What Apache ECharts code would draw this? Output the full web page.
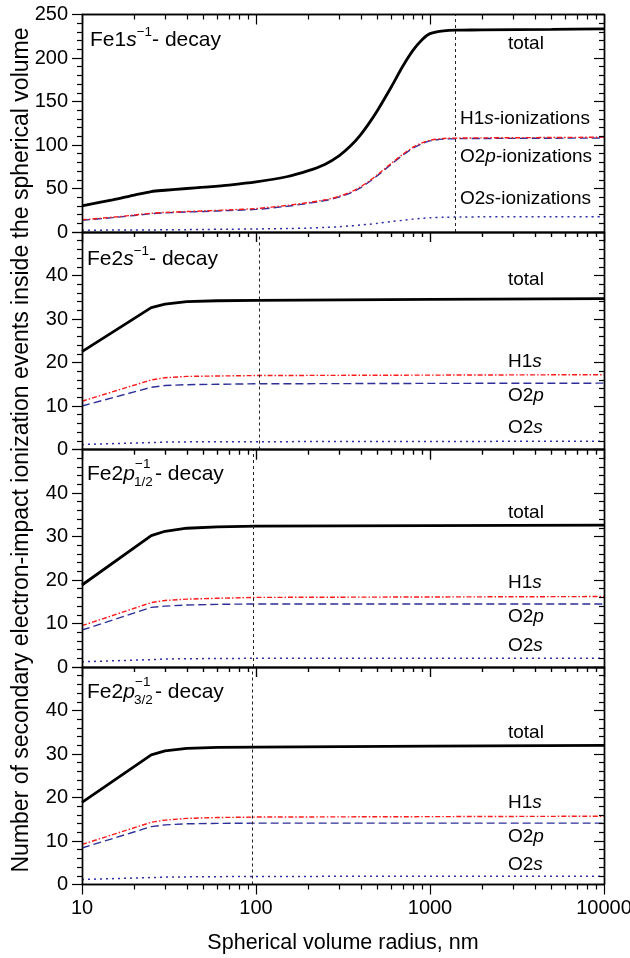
<!DOCTYPE html>
<html>
<head>
<meta charset="utf-8">
<script src="https://cdn.jsdelivr.net/npm/echarts@6/dist/echarts.min.js"></script>
<style>
html, body { margin: 0; padding: 0; background: #fff; overflow: hidden; }
/* a bit wider than the window so the "10000" label never overflows the container */
#chart, #frame { position: absolute; left: 0; top: 0; width: 660px; height: 958px; }
#frame { pointer-events: none; }
</style>
</head>
<body>
<div id="chart"></div>
<div id="frame"></div>
<script>
// radius values (nm)
var radiusFe1s = [10, 15, 20, 25, 30, 40, 50, 70, 100, 150, 200, 250, 300, 350, 400, 450, 500, 600, 700, 800, 900, 1000, 1200, 1500, 2000, 5000, 10000];
var radiusFe2 = [10, 25, 30, 40, 60, 100, 1000, 10000];

// Fe1s-1 decay
var fe1sTotal = [30, 37, 42.5, 46.5, 48, 50, 51.5, 54, 57.5, 63.5, 70.5, 78, 87.5, 99, 112, 126, 140, 167, 191, 209, 221, 228, 231.3, 232, 232.3, 232.8, 233.5];
var fe1sH1s = [14, 17, 19.5, 21.5, 22.5, 23.5, 24.2, 25.4, 27, 30.5, 33.8, 37, 41, 46, 52, 59, 66, 79, 89.5, 97.5, 102.5, 105.5, 107.5, 108, 108.2, 108.6, 109];
var fe1sO2p = [13.5, 16.5, 19, 21, 22, 23, 23.6, 24.7, 26, 29.5, 33, 36.2, 40.2, 45, 51, 58, 65, 78, 88.5, 96.5, 101.5, 104.7, 106.8, 107.3, 107.5, 107.8, 108];
var fe1sO2s = [2, 2.2, 2.3, 2.4, 2.5, 2.7, 2.9, 3.2, 3.5, 4, 4.5, 5.2, 6, 7, 8, 9, 10, 12, 13.5, 14.8, 15.7, 16.3, 16.9, 17.3, 17.4, 17.5, 17.6];

// Fe2s-1 decay
var fe2sTotal = [22.5, 32.6, 33.4, 34.0, 34.2, 34.3, 34.5, 34.7];
var fe2sH1s = [11.1, 16.0, 16.5, 16.8, 16.9, 17.0, 17.1, 17.2];
var fe2sO2p = [10.0, 14.3, 14.7, 14.9, 15.0, 15.1, 15.2, 15.25];
var fe2sO2s = [1.15, 1.6, 1.7, 1.75, 1.8, 1.8, 1.85, 1.9];

// Fe2p1/2-1 decay
var fe2p1Total = [18.85, 30.2, 31.2, 31.9, 32.2, 32.4, 32.5, 32.6];
var fe2p1H1s = [9.5, 14.8, 15.3, 15.6, 15.8, 16.0, 16.1, 16.2];
var fe2p1O2p = [8.5, 13.7, 14.0, 14.25, 14.4, 14.5, 14.5, 14.5];
var fe2p1O2s = [1.2, 1.7, 1.85, 1.9, 1.95, 2.0, 2.0, 2.0];

// Fe2p3/2-1 decay
var fe2p3Total = [18.9, 29.8, 30.7, 31.3, 31.5, 31.6, 31.8, 32.0];
var fe2p3H1s = [9.2, 14.3, 14.8, 15.2, 15.4, 15.5, 15.6, 15.7];
var fe2p3O2p = [8.4, 13.3, 13.7, 13.95, 14.05, 14.1, 14.1, 14.1];
var fe2p3O2s = [1.15, 1.6, 1.7, 1.75, 1.8, 1.85, 1.9, 1.9];

// vertical dashed marker per panel
var markRadius = [1405, 104, 96.5, 95.7];
var yMax = [250, 50, 50, 50];
var yStep = [50, 10, 10, 10];

var panels = [
    {x: radiusFe1s, total: fe1sTotal, h1s: fe1sH1s, o2p: fe1sO2p, o2s: fe1sO2s, smooth: true},
    {x: radiusFe2, total: fe2sTotal, h1s: fe2sH1s, o2p: fe2sO2p, o2s: fe2sO2s, smooth: false},
    {x: radiusFe2, total: fe2p1Total, h1s: fe2p1H1s, o2p: fe2p1O2p, o2s: fe2p1O2s, smooth: false},
    {x: radiusFe2, total: fe2p3Total, h1s: fe2p3H1s, o2p: fe2p3O2p, o2s: fe2p3O2s, smooth: false}
];

var FONT = 'Liberation Sans, Arial, sans-serif';
var panelTop = [14.5, 232, 449.5, 667];
var panelH = 217.5;

function pairs(xs, ys) {
    var out = [];
    for (var i = 0; i < xs.length; i++) {
        out.push([xs[i], ys[i]]);
    }
    return out;
}

// fresh style objects every time (echarts merges into option objects)
function tick(len, inside) {
    return {show: true, inside: !!inside, length: len, lineStyle: {color: '#000', width: 1.2}};
}
function minor(split) {
    return {show: true, splitNumber: split, length: 5, lineStyle: {color: '#000', width: 1.2}};
}
function line() {
    return {show: true, onZero: false, lineStyle: {color: '#000', width: 1.4}};
}
function noTick() {
    return {show: false};
}

// builds the 4 grids and their axes; withTicks -> frame layer, otherwise labels layer
function buildAxes(withTicks) {
    var grids = [], xAxes = [], yAxes = [];
    for (var p = 0; p < 4; p++) {
        grids.push({left: 82, right: 56, top: panelTop[p], height: panelH, containLabel: false, outerBoundsMode: 'none'});

        // bottom log axis (ticks outward)
        xAxes.push({
            type: 'log', logBase: 10, gridIndex: p, min: 10, max: 10000, position: 'bottom',
            axisLine: line(),
            axisTick: withTicks ? tick(10) : noTick(),
            minorTick: withTicks ? minor(9) : noTick(),
            splitLine: {show: false},
            axisLabel: {
                show: !withTicks && p === 3, fontSize: 20, color: '#000', fontFamily: FONT, margin: 14,
                formatter: function (v) { return String(v); }
            }
        });
        // top log axis (ticks inside)
        xAxes.push({
            type: 'log', logBase: 10, gridIndex: p, min: 10, max: 10000, position: 'top',
            axisLine: line(),
            axisTick: withTicks ? tick(10, true) : noTick(),
            minorTick: withTicks ? minor(9) : noTick(),
            splitLine: {show: false},
            axisLabel: {show: false}
        });

        yAxes.push({
            type: 'value', gridIndex: p, min: 0, max: yMax[p], interval: yStep[p], position: 'left',
            axisLine: line(),
            axisTick: withTicks ? tick(10) : noTick(),
            minorTick: withTicks ? minor(5) : noTick(),
            splitLine: {show: false},
            axisLabel: {show: !withTicks, fontSize: 20, color: '#000', fontFamily: FONT, margin: 14, showMaxLabel: p === 0}
        });
        yAxes.push({
            type: 'value', gridIndex: p, min: 0, max: yMax[p], interval: yStep[p], position: 'right',
            axisLine: line(),
            axisTick: withTicks ? tick(10, true) : noTick(),
            minorTick: withTicks ? minor(5) : noTick(),
            splitLine: {show: false},
            axisLabel: {show: false}
        });
    }
    return {grid: grids, xAxis: xAxes, yAxis: yAxes};
}

var series = [];
for (var p = 0; p < 4; p++) {
    var d = panels[p];
    var common = {type: 'line', xAxisIndex: 2 * p, yAxisIndex: 2 * p, showSymbol: false, smooth: d.smooth ? 0.3 : false, z: 3};
    series.push(Object.assign({}, common, {
        name: 'O2s', data: pairs(d.x, d.o2s),
        lineStyle: {color: '#2b2ba8', width: 1.5, type: [2, 4]}
    }));
    series.push(Object.assign({}, common, {
        name: 'O2p', data: pairs(d.x, d.o2p),
        lineStyle: {color: '#2e2e98', width: 1.4, type: [8, 4]}
    }));
    series.push(Object.assign({}, common, {
        name: 'H1s', data: pairs(d.x, d.h1s),
        lineStyle: {color: '#ff1a1a', width: 1.4, type: [5, 2, 1.5, 2]}
    }));
    series.push(Object.assign({}, common, {
        name: 'total', data: pairs(d.x, d.total),
        lineStyle: {color: '#000', width: 2.8},
        markLine: {
            silent: true, symbol: 'none', animation: false,
            label: {show: false},
            lineStyle: {color: '#222', width: 1, type: [3, 3]},
            data: [{xAxis: markRadius[p]}]
        }
    }));
}

// text helpers
var normal = {fontSize: 21, fontFamily: FONT, fill: '#000', lineHeight: 30};
var ital = {fontSize: 21, fontFamily: FONT, fontStyle: 'italic', fill: '#000', lineHeight: 30};
var sup = {fontSize: 13.5, fontFamily: FONT, fill: '#000', lineHeight: 12, verticalAlign: 'top'};
var lab = {fontSize: 19, fontFamily: FONT, fill: '#000'};
var labI = {fontSize: 19, fontFamily: FONT, fontStyle: 'italic', fill: '#000'};
var small = {fontSize: 13.5, fontFamily: FONT, fill: '#000'};

function txt(x, y, text, rich, align) {
    return {
        type: 'text', x: x, y: y, z: 10,
        style: {
            text: text, rich: rich, font: '20px ' + FONT, fill: '#000',
            align: align || 'left', textAlign: align || 'left',
            verticalAlign: 'middle', textVerticalAlign: 'middle'
        }
    };
}

var graphics = [];
// panel titles
graphics.push(txt(90, 40, '{n|Fe1}{i|s}{s|\u22121}{n|- decay}', {n: normal, i: ital, s: sup}));
graphics.push(txt(87, 259, '{n|Fe2}{i|s}{s|\u22121}{n|- decay}', {n: normal, i: ital, s: sup}));
var titleY = [474, 692];
for (var t = 0; t < 2; t++) {
    var ty = titleY[t];
    graphics.push(txt(87, ty, '{n|Fe2}{i|p}', {n: normal, i: ital}));
    graphics.push(txt(135, ty - 10, '{s|\u22121}', {s: small}));
    graphics.push(txt(134, ty + 8, '{s|' + (t === 0 ? '1/2' : '3/2') + '}', {s: small}));
    graphics.push(txt(155, ty, '{n|- decay}', {n: normal}));
}

// curve labels
graphics.push(txt(508, 44, '{n|total}', {n: lab}));
graphics.push(txt(460, 119, '{n|H1}{i|s}{n|-ionizations}', {n: lab, i: labI}));
graphics.push(txt(460, 157, '{n|O2}{i|p}{n|-ionizations}', {n: lab, i: labI}));
graphics.push(txt(460, 198.5, '{n|O2}{i|s}{n|-ionizations}', {n: lab, i: labI}));

var labelY = [
    [280, 362, 396, 427.5],
    [512.5, 583, 616.5, 646],
    [733, 803, 836.5, 865]
];
for (var k = 0; k < 3; k++) {
    graphics.push(txt(508, labelY[k][0], '{n|total}', {n: lab}));
    graphics.push(txt(508, labelY[k][1], '{n|H1}{i|s}', {n: lab, i: labI}));
    graphics.push(txt(508, labelY[k][2], '{n|O2}{i|p}', {n: lab, i: labI}));
    graphics.push(txt(508, labelY[k][3], '{n|O2}{i|s}', {n: lab, i: labI}));
}

// axis titles
graphics.push({
    type: 'text', x: 22, y: 450, rotation: Math.PI / 2, z: 10,
    style: {
        text: 'Number of secondary electron-impact ionization events inside the spherical volume',
        font: '23px ' + FONT, fill: '#000',
        align: 'center', textAlign: 'center', verticalAlign: 'middle', textVerticalAlign: 'middle'
    }
});
graphics.push({
    type: 'text', x: 343, y: 943, z: 10,
    style: {
        text: 'Spherical volume radius, nm',
        font: '21.5px ' + FONT, fill: '#000',
        align: 'center', textAlign: 'center', verticalAlign: 'middle', textVerticalAlign: 'middle'
    }
});

// data + labels layer
var myChart = echarts.init(document.getElementById('chart'), null, {renderer: 'canvas'});
var mainAxes = buildAxes(false);
myChart.setOption({
    animation: false,
    backgroundColor: '#fff',
    grid: mainAxes.grid,
    xAxis: mainAxes.xAxis,
    yAxis: mainAxes.yAxis,
    series: series,
    graphic: graphics
});

// frame layer: same grids and scales, only axis lines and ticks, transparent
var frameChart = echarts.init(document.getElementById('frame'), null, {renderer: 'canvas'});
var frameAxes = buildAxes(true);
frameChart.setOption({
    animation: false,
    grid: frameAxes.grid,
    xAxis: frameAxes.xAxis,
    yAxis: frameAxes.yAxis,
    series: []
});
</script>
</body>
</html>
